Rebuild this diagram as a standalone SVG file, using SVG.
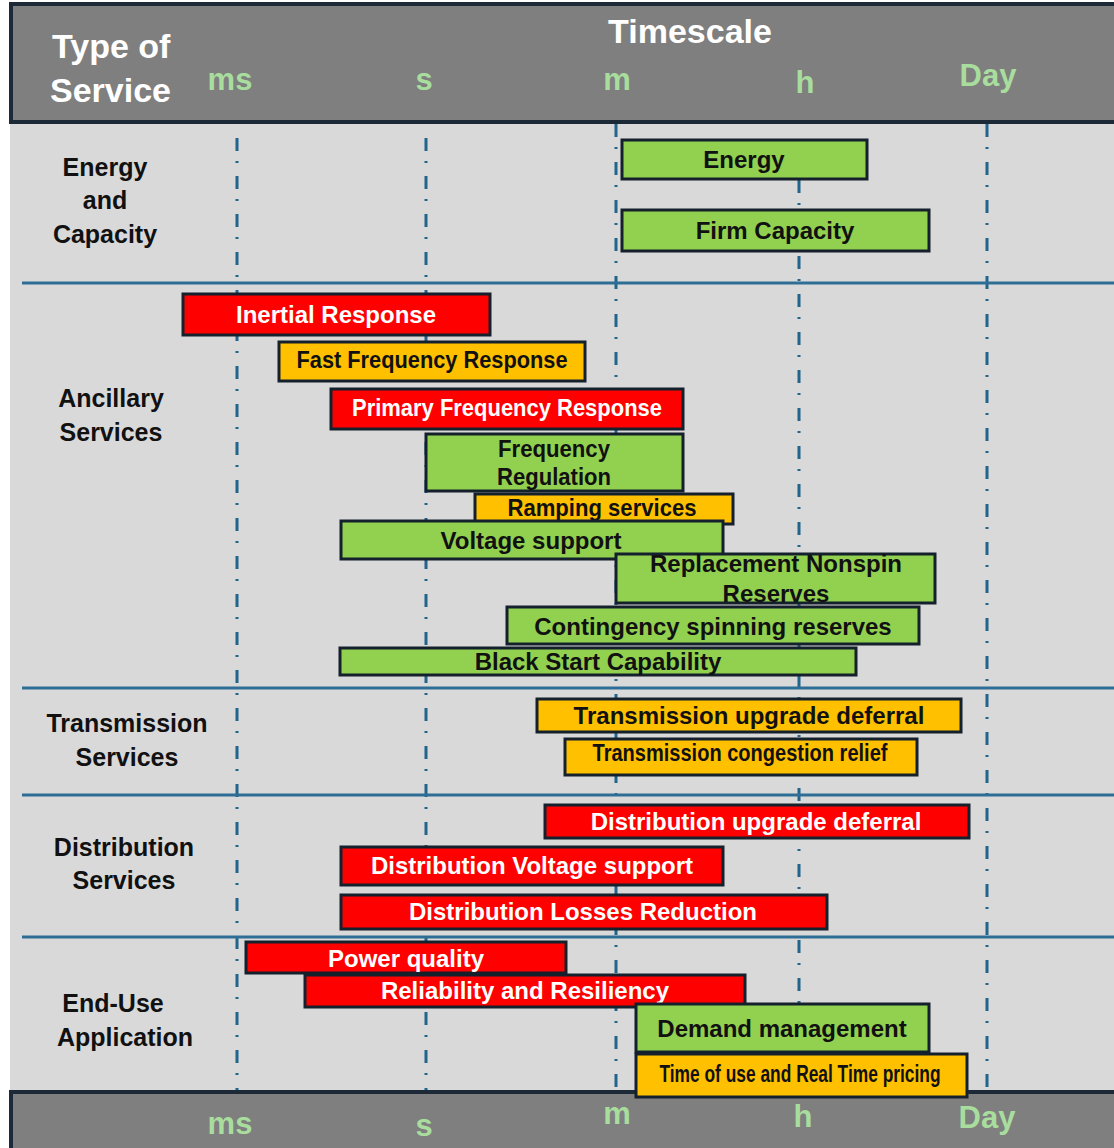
<svg xmlns="http://www.w3.org/2000/svg" width="1114" height="1148" viewBox="0 0 1114 1148">
<style>
.hdr{fill:#7f7f7f;stroke:#1c2a38;stroke-width:4}
.wt{fill:#ffffff;font-family:"Liberation Sans",Arial,sans-serif;font-weight:bold;font-size:34px}
.ts{fill:#a8dd9e;font-family:"Liberation Sans",Arial,sans-serif;font-weight:bold;font-size:31px;text-anchor:middle}
.rl{fill:#111111;font-family:"Liberation Sans",Arial,sans-serif;font-weight:bold;font-size:25px;text-anchor:middle}
.vl{stroke:#21648c;stroke-width:3;stroke-dasharray:13 10 2 13;fill:none}
.hl{stroke:#2e6e96;stroke-width:3;fill:none}
.bar{stroke:#14202c;stroke-width:3}
.g{fill:#92d050}.o{fill:#ffc000}.r{fill:#ff0000}
.bt{font-family:"Liberation Sans",Arial,sans-serif;font-weight:bold;font-size:24px;text-anchor:middle;fill:#111111}
.bw{fill:#ffffff}
</style>
<rect x="0" y="0" width="1114" height="1148" fill="#ffffff"/>
<rect x="10" y="120" width="1104" height="972" fill="#d9d9d9"/>
<g id="header">
<rect class="hdr" x="11" y="4" width="1110" height="118"/>
<text class="wt" x="52" y="58">Type of</text>
<text class="wt" x="50" y="102">Service</text>
<text class="wt" x="690" y="43" text-anchor="middle">Timescale</text>
<text class="ts" x="230" y="90">ms</text>
<text class="ts" x="424" y="90">s</text>
<text class="ts" x="617" y="90">m</text>
<text class="ts" x="805" y="93">h</text>
<text class="ts" x="988" y="86">Day</text>
</g>
<g id="footer">
<rect class="hdr" x="11" y="1092" width="1110" height="60"/>
<text class="ts" x="230" y="1134">ms</text>
<text class="ts" x="424" y="1136">s</text>
<text class="ts" x="617" y="1124">m</text>
<text class="ts" x="803" y="1127">h</text>
<text class="ts" x="987" y="1128">Day</text>
</g>
<g id="connectors">
<line class="vl" x1="237" y1="138" x2="237" y2="1090"/>
<line class="vl" x1="426" y1="138" x2="426" y2="1090"/>
<line class="vl" x1="616" y1="124" x2="616" y2="1090"/>
<line class="vl" x1="799" y1="180" x2="799" y2="1090"/>
<line class="vl" x1="987" y1="124" x2="987" y2="1090"/>
<line class="hl" x1="22" y1="283" x2="1114" y2="283"/>
<line class="hl" x1="22" y1="688" x2="1114" y2="688"/>
<line class="hl" x1="22" y1="795" x2="1114" y2="795"/>
<line class="hl" x1="22" y1="937" x2="1114" y2="937"/>
</g>
<g id="row-labels">
<text class="rl" x="105" y="176">Energy</text>
<text class="rl" x="105" y="209">and</text>
<text class="rl" x="105" y="243">Capacity</text>
<text class="rl" x="111" y="407">Ancillary</text>
<text class="rl" x="111" y="441">Services</text>
<text class="rl" x="127" y="732">Transmission</text>
<text class="rl" x="127" y="766">Services</text>
<text class="rl" x="124" y="856">Distribution</text>
<text class="rl" x="124" y="889">Services</text>
<text class="rl" x="113" y="1012">End-Use</text>
<text class="rl" x="125" y="1046">Application</text>
</g>
<g id="energy"><rect class="bar g" x="622" y="140" width="245" height="39"/><text class="bt" x="744" y="168">Energy</text></g>
<g id="firm-capacity"><rect class="bar g" x="622" y="210" width="307" height="41"/><text class="bt" x="775" y="239">Firm Capacity</text></g>
<g id="inertial-response"><rect class="bar r" x="183" y="294" width="307" height="41"/><text class="bt bw" x="336" y="323">Inertial Response</text></g>
<g id="fast-frequency-response"><rect class="bar o" x="279" y="342" width="306" height="39"/><text class="bt" x="432" y="368" font-size="21" textLength="271" lengthAdjust="spacingAndGlyphs">Fast Frequency Response</text></g>
<g id="primary-frequency-response"><rect class="bar r" x="331" y="389" width="352" height="40"/><text class="bt bw" x="507" y="416" font-size="21" textLength="310" lengthAdjust="spacingAndGlyphs">Primary Frequency Response</text></g>
<g id="frequency-regulation"><rect class="bar g" x="426" y="434" width="257" height="57"/><text class="bt" x="554" y="457" font-size="22" textLength="112" lengthAdjust="spacingAndGlyphs">Frequency</text><text class="bt" x="554" y="485" font-size="22" textLength="114" lengthAdjust="spacingAndGlyphs">Regulation</text></g>
<g id="ramping-services"><rect class="bar o" x="475" y="494" width="258" height="30"/><text class="bt" x="602" y="516" font-size="21" textLength="189" lengthAdjust="spacingAndGlyphs">Ramping services</text></g>
<g id="voltage-support"><rect class="bar g" x="341" y="521" width="382" height="38"/><text class="bt" x="531" y="549">Voltage support</text></g>
<g id="replacement-nonspin-reserves"><rect class="bar g" x="616" y="554" width="319" height="49"/><text class="bt" x="776" y="572">Replacement Nonspin</text><text class="bt" x="776" y="602">Reserves</text></g>
<g id="contingency-spinning-reserves"><rect class="bar g" x="507" y="607" width="412" height="37"/><text class="bt" x="713" y="635">Contingency spinning reserves</text></g>
<g id="black-start-capability"><rect class="bar g" x="340" y="648" width="516" height="27"/><text class="bt" x="598" y="670">Black Start Capability</text></g>
<g id="transmission-upgrade-deferral"><rect class="bar o" x="537" y="699" width="424" height="33"/><text class="bt" x="749" y="724">Transmission upgrade deferral</text></g>
<g id="transmission-congestion-relief"><rect class="bar o" x="565" y="739" width="352" height="36"/><text class="bt" x="740" y="761" font-size="17" textLength="295" lengthAdjust="spacingAndGlyphs">Transmission congestion relief</text></g>
<g id="distribution-upgrade-deferral"><rect class="bar r" x="545" y="805" width="424" height="33"/><text class="bt bw" x="756" y="830">Distribution upgrade deferral</text></g>
<g id="distribution-voltage-support"><rect class="bar r" x="341" y="847" width="382" height="38"/><text class="bt bw" x="532" y="874">Distribution Voltage support</text></g>
<g id="distribution-losses-reduction"><rect class="bar r" x="341" y="895" width="486" height="34"/><text class="bt bw" x="583" y="920">Distribution Losses Reduction</text></g>
<g id="power-quality"><rect class="bar r" x="246" y="942" width="320" height="31"/><text class="bt bw" x="406" y="967">Power quality</text></g>
<g id="reliability-and-resiliency"><rect class="bar r" x="305" y="975" width="440" height="32"/><text class="bt bw" x="525" y="999">Reliability and Resiliency</text></g>
<g id="demand-management"><rect class="bar g" x="636" y="1004" width="293" height="48"/><text class="bt" x="782" y="1037">Demand management</text></g>
<g id="time-of-use-pricing"><rect class="bar o" x="636" y="1054" width="331" height="43"/><text class="bt" x="800" y="1082" font-size="17" textLength="281" lengthAdjust="spacingAndGlyphs">Time of use and Real Time pricing</text></g>
</svg>
